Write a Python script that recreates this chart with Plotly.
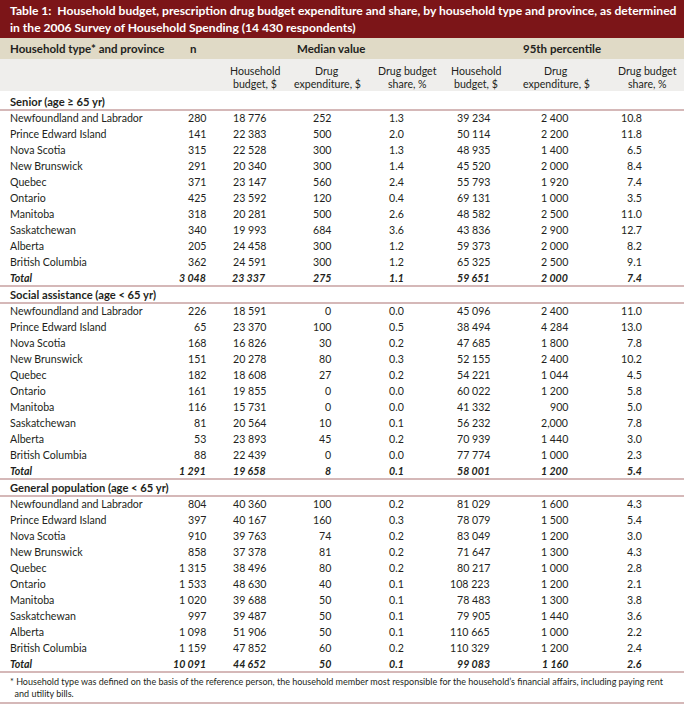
import plotly.graph_objects as go

# ---------------- data ----------------
title_line1 = "Table 1:\u00a0\u00a0Household budget, prescription drug budget expenditure and share, by household type and province, as determined"
title_line2 = "in the 2006 Survey of Household Spending (14 430 respondents)"

group_headers = ["Household type* and province", "n", "Median value", "95th percentile"]
sub_headers = [["Household", "budget, $"], ["Drug", "expenditure, $"], ["Drug budget", "share, %"],
               ["Household", "budget, $"], ["Drug", "expenditure, $"], ["Drug budget", "share, %"]]

provinces = ["Newfoundland and Labrador", "Prince Edward Island", "Nova Scotia", "New Brunswick",
             "Quebec", "Ontario", "Manitoba", "Saskatchewan", "Alberta", "British Columbia", "Total"]

sections = ["Senior (age \u2265 65 yr)", "Social assistance (age < 65 yr)", "General population (age < 65 yr)"]

senior_n = [280, 141, 315, 291, 371, 425, 318, 340, 205, 362, 3048]
senior_med_budget = [18776, 22383, 22528, 20340, 23147, 23592, 20281, 19993, 24458, 24591, 23337]
senior_med_drug = [252, 500, 300, 300, 560, 120, 500, 684, 300, 300, 275]
senior_med_share = [1.3, 2.0, 1.3, 1.4, 2.4, 0.4, 2.6, 3.6, 1.2, 1.2, 1.1]
senior_p95_budget = [39234, 50114, 48935, 45520, 55793, 69131, 48582, 43836, 59373, 65325, 59651]
senior_p95_drug = [2400, 2200, 1400, 2000, 1920, 1000, 2500, 2900, 2000, 2500, 2000]
senior_p95_share = [10.8, 11.8, 6.5, 8.4, 7.4, 3.5, 11.0, 12.7, 8.2, 9.1, 7.4]

social_n = [226, 65, 168, 151, 182, 161, 116, 81, 53, 88, 1291]
social_med_budget = [18591, 23370, 16826, 20278, 18608, 19855, 15731, 20564, 23893, 22439, 19658]
social_med_drug = [0, 100, 30, 80, 27, 0, 0, 10, 45, 0, 8]
social_med_share = [0.0, 0.5, 0.2, 0.3, 0.2, 0.0, 0.0, 0.1, 0.2, 0.0, 0.1]
social_p95_budget = [45096, 38494, 47685, 52155, 54221, 60022, 41332, 56232, 70939, 77774, 58001]
social_p95_drug = [2400, 4284, 1800, 2400, 1044, 1200, 900, 2000, 1440, 1000, 1200]
social_p95_share = [11.0, 13.0, 7.8, 10.2, 4.5, 5.8, 5.0, 7.8, 3.0, 2.3, 5.4]

general_n = [804, 397, 910, 858, 1315, 1533, 1020, 997, 1098, 1159, 10091]
general_med_budget = [40360, 40167, 39763, 37378, 38496, 48630, 39688, 39487, 51906, 47852, 44652]
general_med_drug = [100, 160, 74, 81, 80, 40, 50, 50, 50, 60, 50]
general_med_share = [0.2, 0.3, 0.2, 0.2, 0.2, 0.1, 0.1, 0.1, 0.1, 0.2, 0.1]
general_p95_budget = [81029, 78079, 83049, 71647, 80217, 108223, 78483, 79905, 110665, 110329, 99083]
general_p95_drug = [1600, 1500, 1200, 1300, 1000, 1200, 1300, 1440, 1000, 1200, 1160]
general_p95_share = [4.3, 5.4, 3.0, 4.3, 2.8, 2.1, 3.8, 3.6, 2.2, 2.4, 2.6]

# one cell in the source uses a comma as thousands separator
comma_cells = [(1, 5, 7)]  # (section, column, row)

footnote = ["* Household type was defined on the basis of the reference person, the household member most responsible for the household\u2019s financial affairs, including paying rent",
            "\u00a0\u00a0and utility bills."]

section_data = [
    [senior_n, senior_med_budget, senior_med_drug, senior_med_share, senior_p95_budget, senior_p95_drug, senior_p95_share],
    [social_n, social_med_budget, social_med_drug, social_med_share, social_p95_budget, social_p95_drug, social_p95_share],
    [general_n, general_med_budget, general_med_drug, general_med_share, general_p95_budget, general_p95_drug, general_p95_share],
]
share_cols = {3, 6}

# ---------------- styling / geometry ----------------
W, H = 684, 710
FONT = "Lato, 'Open Sans', sans-serif"
TXT = "#231f20"
RED = "#7c1518"
BEIGE = "#e0dac6"
GREY = "#efeeec"
LINE = "#c7a1a1"

col_right = [208, 268, 333, 406, 492, 570, 644]
sub_center = [255, 327, 407, 476, 556, 647]

TITLE_BOTTOM = 38
BEIGE_BOTTOM = 59
GREY_BOTTOM = 91
ROW_H = 16
SEC_H = [19, 17, 17]
BODY = 10.6


def fmt(v, col, key):
    if col in share_cols:
        return f"{v:.1f}"
    sep = "," if key in comma_cells else " "
    s = f"{int(v):,}"
    return s.replace(",", sep)


fig = go.Figure()
fig.add_trace(go.Scatter(x=[0, W], y=[0, H], mode="markers", marker=dict(opacity=0), hoverinfo="skip"))

shapes = []
ann = []


def rect(y0, y1, color):
    shapes.append(dict(type="rect", xref="x", yref="y", x0=0, x1=W, y0=y0, y1=y1,
                       fillcolor=color, line=dict(width=0), layer="below"))


def hline(y):
    shapes.append(dict(type="line", xref="x", yref="y", x0=0, x1=W, y0=y, y1=y,
                       line=dict(color=LINE, width=1.4)))


def text(x, y, s, anchor="left", size=BODY, color=TXT):
    ann.append(dict(x=x, y=y, xref="x", yref="y", text=s, showarrow=False,
                    xanchor=anchor, yanchor="middle",
                    font=dict(family=FONT, size=size, color=color)))


# title band
rect(0, TITLE_BOTTOM, RED)
text(8, 10.5, f"<b>{title_line1}</b>", size=12.1, color="white")
text(8, 27, f"<b>{title_line2}</b>", size=12.1, color="white")

# header rows
rect(TITLE_BOTTOM, BEIGE_BOTTOM, BEIGE)
rect(BEIGE_BOTTOM, GREY_BOTTOM, GREY)
hy = (TITLE_BOTTOM + BEIGE_BOTTOM) / 2
text(8, hy, f"<b>{group_headers[0]}</b>", size=11.5)
text(193, hy, f"<b>{group_headers[1]}</b>", anchor="center", size=11.5)
text((sub_center[0] + sub_center[2]) / 2, hy, f"<b>{group_headers[2]}</b>", anchor="center", size=11.5)
text((sub_center[3] + sub_center[5]) / 2, hy, f"<b>{group_headers[3]}</b>", anchor="center", size=11.5)
for c, (l1, l2) in enumerate(sub_headers):
    text(sub_center[c], 71, l1, anchor="center")
    text(sub_center[c], 84, l2, anchor="center")

# body
y = GREY_BOTTOM
for s, name in enumerate(sections):
    hb = y + SEC_H[s]
    text(8, hb - 8.5, f"<b>{name}</b>", size=11.2)
    hline(hb)
    cols = section_data[s]
    for r, prov in enumerate(provinces):
        cy = hb + ROW_H * (r + 0.5)
        total = (r == len(provinces) - 1)
        lab = f"<b><i>{prov}</i></b>" if total else prov
        text(8, cy, lab)
        for c, arr in enumerate(cols):
            t = fmt(arr[r], c, (s, c, r))
            if total:
                t = f"<b><i>{t}</i></b>"
            text(col_right[c], cy, t, anchor="right")
    y = hb + ROW_H * len(provinces)
    hline(y)

# footnote
text(8, y + 9.5, footnote[0], size=9)
text(8, y + 21, footnote[1], size=9)
hline(y + 31)

fig.update_layout(width=W, height=H, margin=dict(l=0, r=0, t=0, b=0),
                  paper_bgcolor="white", plot_bgcolor="white", showlegend=False,
                  shapes=shapes, annotations=ann,
                  xaxis=dict(range=[0, W], visible=False, fixedrange=True),
                  yaxis=dict(range=[H, 0], visible=False, fixedrange=True))

fig.write_html("out.html", config={"displayModeBar": False, "staticPlot": True},
               post_script="document.body.style.margin='0';")
